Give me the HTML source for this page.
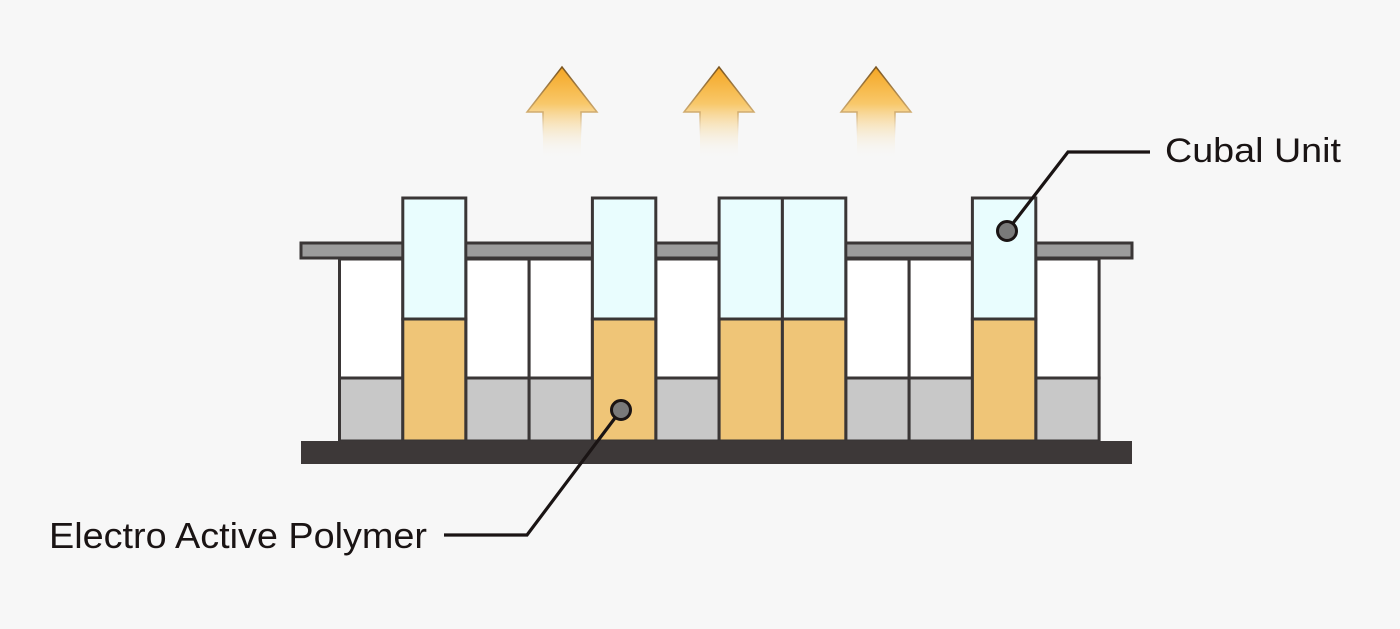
<!DOCTYPE html>
<html><head><meta charset="utf-8"><style>
html,body{margin:0;padding:0;background:#f7f7f7;}
svg{display:block;}
text{font-family:"Liberation Sans",sans-serif;fill:#1a1414;}
</style></head><body>
<svg width="1400" height="629" viewBox="0 0 1400 629" xmlns="http://www.w3.org/2000/svg">
<defs>
<linearGradient id="ag" x1="0" y1="0" x2="0" y2="1">
<stop offset="0" stop-color="#f5a623"/>
<stop offset="0.4" stop-color="#f8c86a"/>
<stop offset="1" stop-color="#f7f7f7" stop-opacity="0"/>
</linearGradient>
<linearGradient id="as" x1="0" y1="0" x2="0" y2="1">
<stop offset="0" stop-color="#7a5520"/>
<stop offset="0.5" stop-color="#d2ad70"/>
<stop offset="0.8" stop-color="#f7f7f7" stop-opacity="0"/>
</linearGradient>
</defs>
<rect width="1400" height="629" fill="#f7f7f7"/>
<g stroke="url(#as)" stroke-width="1.5" fill="url(#ag)">
<path d="M562,67 L597,112 L581,112 L581,159 L543,159 L543,112 L527,112 Z"/>
<path d="M719,67 L754,112 L738,112 L738,159 L700,159 L700,112 L684,112 Z"/>
<path d="M876,67 L911,112 L895,112 L895,159 L857,159 L857,112 L841,112 Z"/>
</g>

<rect x="301" y="243" width="831" height="15" fill="#9c9c9c" stroke="#3a3636" stroke-width="3"/>

<g stroke="#3a3636" stroke-width="3">
<rect x="339.5" y="259" width="63.3" height="119" fill="#ffffff"/><rect x="339.5" y="378" width="63.3" height="63" fill="#c8c8c8"/>
<rect x="465.8" y="259" width="63.3" height="119" fill="#ffffff"/><rect x="465.8" y="378" width="63.3" height="63" fill="#c8c8c8"/>
<rect x="529.1" y="259" width="63.3" height="119" fill="#ffffff"/><rect x="529.1" y="378" width="63.3" height="63" fill="#c8c8c8"/>
<rect x="655.8" y="259" width="63.3" height="119" fill="#ffffff"/><rect x="655.8" y="378" width="63.3" height="63" fill="#c8c8c8"/>
<rect x="845.8" y="259" width="63.3" height="119" fill="#ffffff"/><rect x="845.8" y="378" width="63.3" height="63" fill="#c8c8c8"/>
<rect x="909.1" y="259" width="63.3" height="119" fill="#ffffff"/><rect x="909.1" y="378" width="63.3" height="63" fill="#c8c8c8"/>
<rect x="1035.8" y="259" width="63.3" height="119" fill="#ffffff"/><rect x="1035.8" y="378" width="63.3" height="63" fill="#c8c8c8"/>
<rect x="402.8" y="198" width="63" height="121" fill="#e9fdfe"/><rect x="402.8" y="319" width="63" height="122" fill="#efc577"/>
<rect x="592.4" y="198" width="63.4" height="121" fill="#e9fdfe"/><rect x="592.4" y="319" width="63.4" height="122" fill="#efc577"/>
<rect x="719.1" y="198" width="63.3" height="121" fill="#e9fdfe"/><rect x="719.1" y="319" width="63.3" height="122" fill="#efc577"/>
<rect x="782.4" y="198" width="63.4" height="121" fill="#e9fdfe"/><rect x="782.4" y="319" width="63.4" height="122" fill="#efc577"/>
<rect x="972.4" y="198" width="63.4" height="121" fill="#e9fdfe"/><rect x="972.4" y="319" width="63.4" height="122" fill="#efc577"/>
</g>

<rect x="301" y="441" width="831" height="23" fill="#3d3838"/>

<polyline points="1007,231 1068,152 1150,152" fill="none" stroke="#1a1414" stroke-width="3.2"/>
<circle cx="1007" cy="231" r="9.5" fill="#7a7a7a" stroke="#1a1414" stroke-width="3"/>
<polyline points="621,410 527,535 444,535" fill="none" stroke="#1a1414" stroke-width="3.2"/>
<circle cx="621" cy="410" r="9.5" fill="#7a7a7a" stroke="#1a1414" stroke-width="3"/>

<text x="1165" y="162" font-size="34" textLength="176" lengthAdjust="spacingAndGlyphs">Cubal Unit</text>
<text x="49" y="548" font-size="36" textLength="378" lengthAdjust="spacingAndGlyphs">Electro Active Polymer</text>
</svg>
</body></html>
